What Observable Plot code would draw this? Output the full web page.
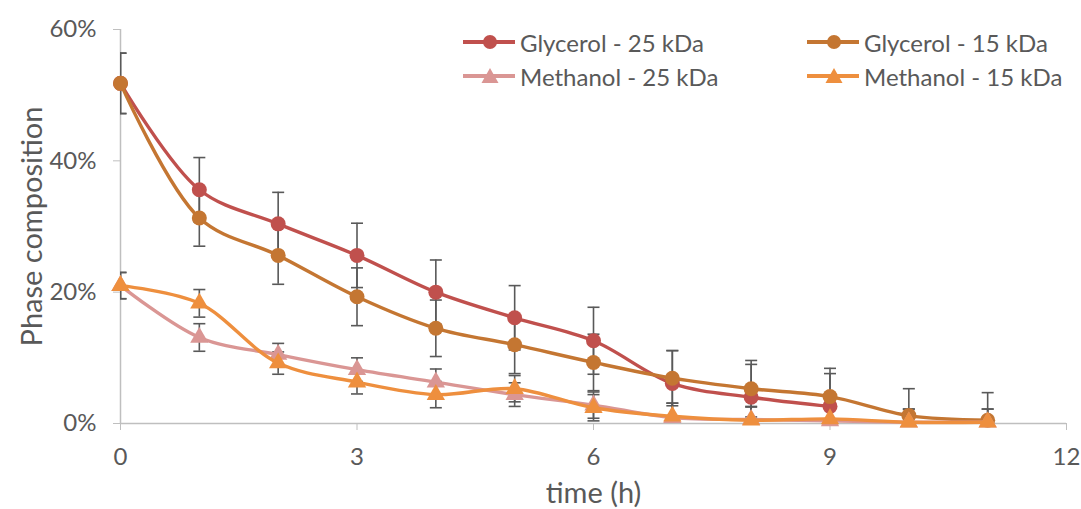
<!DOCTYPE html>
<html>
<head>
<meta charset="utf-8">
<script src="https://cdn.jsdelivr.net/npm/d3@7"></script>
<script src="https://cdn.jsdelivr.net/npm/@observablehq/plot@0.6"></script>
<style>
  html, body { margin: 0; padding: 0; background: #fff; }
  #wrap { position: relative; width: 1081px; height: 509px; font-family: Lato, "Open Sans", sans-serif; }
  #legend { position: absolute; left: 0; top: 0; width: 1081px; height: 100px; pointer-events: none; }
  .item { position: absolute; display: flex; align-items: center; color: #595959; font-size: 24px; white-space: nowrap; }
  .item svg { display: block; margin-right: 4px; }
</style>
</head>
<body>
<div id="wrap"><div id="legend"></div></div>
<script>
// ---- data ----
const times = [0, 1, 2, 3, 4, 5, 6, 7, 8, 9, 10, 11];
const seriesNames = ["Glycerol - 25 kDa", "Glycerol - 15 kDa", "Methanol - 25 kDa", "Methanol - 15 kDa"];
const seriesColors = ["#C0504D", "#C47632", "#DA9694", "#EE8F3E"];
const seriesSymbols = ["circle", "circle", "triangle", "triangle"];

const glycerol25 = [51.8, 35.6, 30.4, 25.6, 20.0, 16.1, 12.6, 6.1, 4.0, 2.6];
const glycerol25Err = [4.6, 4.9, 4.8, 4.9, 4.9, 4.9, 5.1, 5.0, 5.0, 5.0];
const glycerol15 = [51.8, 31.3, 25.6, 19.3, 14.5, 12.0, 9.3, 6.9, 5.3, 4.1, 1.2, 0.5];
const glycerol15Err = [4.6, 4.3, 4.4, 4.4, 4.3, 4.4, 4.3, 4.2, 4.3, 4.3, 4.1, 4.2];
const methanol25 = [21.0, 13.1, 10.5, 8.2, 6.3, 4.4, 2.8, 0.9, 0.6, 0.4, 0.2, 0.2];
const methanol25Err = [2.0, 2.1, 1.7, 1.8, 2.0, 1.8, 2.0, 2.2, 2.0, 2.0, 2.0, 2.0];
const methanol15 = [21.0, 18.3, 9.2, 6.3, 4.4, 5.3, 2.4, 1.1, 0.5, 0.7, 0.2, 0.2];
const methanol15Err = [2.0, 2.1, 1.7, 1.8, 2.0, 2.0, 2.0, 2.0, 2.0, 2.0, 2.0, 2.0];

const xTicks = [0, 3, 6, 9, 12];
const yTicks = [0, 20, 40, 60];
const xLabel = "time (h)";
const yLabel = "Phase composition";

// ---- build table ----
const valueSets = [glycerol25, glycerol15, methanol25, methanol15];
const errSets = [glycerol25Err, glycerol15Err, methanol25Err, methanol15Err];
const rows = [];
seriesNames.forEach((s, i) => {
  valueSets[i].forEach((v, j) => rows.push({series: s, t: times[j], v, e: errSets[i][j]}));
});

const capSymbol = {
  draw(ctx, size) { const r = Math.sqrt(size / Math.PI); ctx.moveTo(-r, 0); ctx.lineTo(r, 0); }
};

const errColor = "#595959";
const marks = [
  Plot.ruleY([0], {stroke: "#BFBFBF", strokeWidth: 1.5}),
  Plot.ruleX([0], {stroke: "#BFBFBF", strokeWidth: 1.5}),
  Plot.axisY({ticks: yTicks, tickFormat: d => d + "%", tickSize: 7, tickPadding: 17, stroke: "#BFBFBF", fill: "#595959", fontSize: 24, label: null}),
  Plot.axisX({ticks: xTicks, tickSize: 7, tickPadding: 17, stroke: "#BFBFBF", fill: "#595959", fontSize: 24, label: null}),
  Plot.text([xLabel], {frameAnchor: "bottom", dy: 70, fontSize: 29, fill: "#595959", textAnchor: "middle", lineAnchor: "middle"}),
  Plot.text([yLabel], {frameAnchor: "left", rotate: -90, dx: -88, fontSize: 29, fill: "#595959", textAnchor: "middle", lineAnchor: "middle"}),
  // error bars
  Plot.ruleX(rows, {x: "t", y1: d => d.v - d.e, y2: d => d.v + d.e, stroke: errColor, strokeWidth: 1.6, clip: true}),
  Plot.dot(rows, {x: "t", y: d => d.v + d.e, symbol: capSymbol, r: 6, stroke: errColor, strokeWidth: 1.6, fill: "none", clip: true}),
  Plot.dot(rows, {x: "t", y: d => d.v - d.e, symbol: capSymbol, r: 6, stroke: errColor, strokeWidth: 1.6, fill: "none", clip: true})
];
seriesNames.forEach((s, i) => {
  const data = rows.filter(d => d.series === s);
  marks.push(Plot.line(data, {x: "t", y: "v", stroke: "series", strokeWidth: 3.4, curve: "catmull-rom"}));
  marks.push(Plot.dot(data, {x: "t", y: "v", fill: "series", symbol: seriesSymbols[i], r: seriesSymbols[i] === "circle" ? 7.5 : 6.8, stroke: "none"}));
});

const chart = Plot.plot({
  width: 1081,
  height: 509,
  marginLeft: 120,
  marginRight: 15,
  marginTop: 29,
  marginBottom: 86,
  style: {fontFamily: "Lato, 'Open Sans', sans-serif", background: "#fff", color: "#595959"},
  x: {domain: [0, 12]},
  y: {domain: [0, 60]},
  color: {domain: seriesNames, range: seriesColors},
  marks
});
document.getElementById("wrap").prepend(chart);

// ---- legend (HTML overlay) ----
const legendPos = [[462, 42], [806, 42], [462, 76], [806, 76]];
const legend = document.getElementById("legend");
seriesNames.forEach((s, i) => {
  const [lx, ly] = legendPos[i];
  const item = document.createElement("div");
  item.className = "item";
  item.style.left = lx + "px";
  item.style.top = (ly - 16) + "px";
  item.style.height = "32px";
  const c = seriesColors[i];
  const marker = seriesSymbols[i] === "circle"
    ? `<circle cx="28" cy="16" r="7" fill="${c}"/>`
    : `<path d="M28,8 L36.5,23 L19.5,23 Z" fill="${c}"/>`;
  item.innerHTML = `<svg width="54" height="32"><line x1="1" y1="16" x2="53" y2="16" stroke="${c}" stroke-width="4"/>${marker}</svg><span>${s}</span>`;
  legend.appendChild(item);
});
</script>
</body>
</html>
